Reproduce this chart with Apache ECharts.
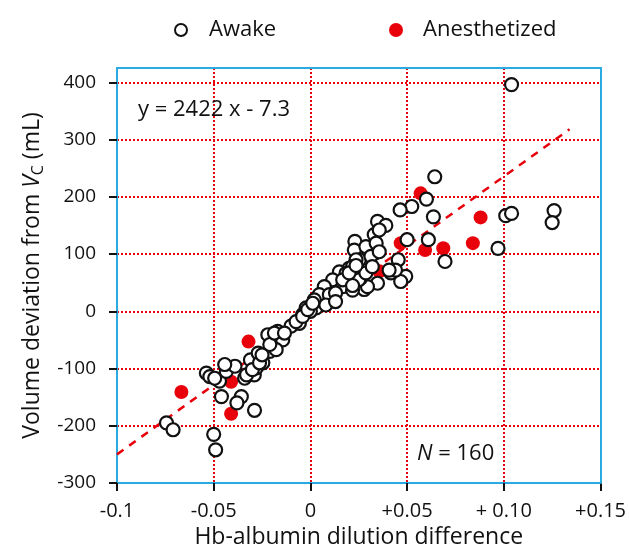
<!DOCTYPE html>
<html>
<head>
<meta charset="utf-8">
<script src="https://cdn.jsdelivr.net/npm/echarts@6/dist/echarts.min.js"></script>
<style>html,body{margin:0;padding:0;background:#fff;}#c{width:629px;height:560px;}</style>
</head>
<body>
<div id="c"></div>
<script>
var xTickValues = [-0.1, -0.05, 0, 0.05, 0.1, 0.15];
var xTickLabels = ['-0.1', '-0.05', '0', '+0.05', '+ 0.10', '+0.15'];
var yTickValues = [-300, -200, -100, 0, 100, 200, 300, 400];
var yTickLabels = ['-300', '-200', '-100', '0', '100', '200', '300', '400'];

var awake = [
  [0.104,396],[0.0643,235],[0.060,196],[0.0524,183],[0.0464,177],[0.0636,165],[0.0347,157],[0.039,150],
  [0.033,134],[0.023,122],[0.050,125],[0.061,125],[0.101,167],[0.104,171],[0.126,176],[0.125,155],
  [0.097,110],[0.0696,87],[0.0454,90],[0.0493,61],[0.0467,52],[0.0335,102],[0.0416,67],[0.0347,49],
  [0.0278,38],[0.0356,142],[0.0227,107],[0.0287,113],[0.034,119],[0.0253,90],[0.0313,96],[0.0356,104],
  [0.044,72],[0.0295,43],[0.026,58],[0.020,75],[0.015,69],[0.0115,55],[0.0167,43],[0.0218,37],
  [0.0072,43],[0.0046,29],[0.002,20],[-0.0022,6],[0.0098,29],[0.013,32],[0.0236,90],[0.0218,78],
  [0.0184,66],[0.0167,55],[0.025,55],[0.0287,67],[0.032,78],[0.0407,72],[0.003,6],[0.008,11],
  [0.013,17],[0.0218,45],[0.020,67],[0.0236,80],
  [-0.0744,-195],[-0.071,-207],[-0.050,-215],[-0.049,-242],[-0.0538,-108],[-0.052,-114],[-0.046,-149],
  [-0.047,-122],[-0.0435,-105],[-0.039,-96],[-0.0357,-149],[-0.038,-160],[-0.0289,-173],[-0.034,-117],
  [-0.029,-111],[-0.028,-99],[-0.031,-85],[-0.0246,-90],[-0.027,-73],[-0.021,-70],[-0.019,-58],
  [-0.022,-41],[-0.0169,-35],[-0.0143,-50],[-0.010,-26],[-0.0057,-21],[-0.004,-6],[0,0],
  [-0.0495,-117],[-0.0443,-93],[-0.033,-111],[-0.030,-102],[-0.0263,-90],[-0.025,-76],[-0.0177,-67],
  [-0.021,-58],[-0.0186,-38],[-0.0134,-38],[-0.0074,-18],[-0.004,-9],[-0.0014,3],[0.0012,14]
];
var anesthetized = [
  [-0.0667,-141],[-0.041,-179],[-0.041,-123],[-0.032,-53],[0.0356,70],[0.0467,119],
  [0.057,206],[0.0593,107],[0.0687,110],[0.084,119],[0.088,164]
];
var fitLine = [[-0.1,-250],[0.134,318]];

var FONT = 'Open Sans';
var BLUE = '#29abe2';
var RED = '#e8000b';

var chart = echarts.init(document.getElementById('c'), null, {renderer: 'canvas'});
chart.setOption({
  animation: false,
  backgroundColor: '#fff',
  textStyle: {fontFamily: FONT},
  grid: {left: 117, right: 27, top: 68, bottom: 77, containLabel: false},
  legend: [
    {left: 169, top: 14, itemWidth: 12, itemHeight: 12, data: ['Awake'],
     textStyle: {fontFamily: FONT, fontSize: 22, color: '#111', padding: [0,0,0,17]}},
    {left: 384, top: 14, itemWidth: 14, itemHeight: 14, data: ['Anesthetized'],
     textStyle: {fontFamily: FONT, fontSize: 22, color: '#111', padding: [0,0,0,15]}}
  ],
  xAxis: [{
    type: 'value', min: -0.1, max: 0.15, interval: 0.05, position: 'bottom',
    name: 'Hb-albumin dilution difference', nameLocation: 'middle', nameGap: 43,
    nameTextStyle: {fontFamily: FONT, fontSize: 23, color: '#111'},
    axisLine: {show: true, onZero: false, lineStyle: {color: BLUE, width: 2}},
    axisTick: {show: true, inside: false, length: 8, lineStyle: {color: '#111', width: 2}},
    axisLabel: {margin: 18, fontFamily: FONT, fontSize: 20, color: '#111',
      formatter: function (v) {
        for (var i = 0; i < xTickValues.length; i++) { if (Math.abs(v - xTickValues[i]) < 1e-9) return xTickLabels[i]; }
        return '';
      }},
    splitLine: {show: true, lineStyle: {color: RED, width: 2, type: [2, 2]}}
  }, {
    type: 'value', min: -0.1, max: 0.15, interval: 0.05, position: 'top', z: 10,
    axisLine: {show: true, onZero: false, lineStyle: {color: BLUE, width: 2}},
    axisTick: {show: false}, axisLabel: {show: false}, splitLine: {show: false}
  }],
  yAxis: [{
    type: 'value', min: -300, max: 425, interval: 100, position: 'left',
    name: '{a|Volume deviation from }{i|V}{s|C}{a| (mL)}',
    nameLocation: 'middle', nameGap: 64,
    nameTextStyle: {
      rich: {
        a: {fontFamily: FONT, fontSize: 23, color: '#111'},
        i: {fontFamily: FONT, fontSize: 23, color: '#111', fontStyle: 'italic'},
        s: {fontFamily: FONT, fontSize: 16, color: '#111', padding: [11, 0, 0, 0]}
      }
    },
    axisLine: {show: true, onZero: false, lineStyle: {color: BLUE, width: 2}},
    axisTick: {show: true, inside: false, length: 8, customValues: yTickValues, lineStyle: {color: '#111', width: 2}},
    axisLabel: {margin: 21, fontFamily: FONT, fontSize: 19, color: '#111', customValues: yTickValues,
      formatter: function (v) {
        var i = yTickValues.indexOf(Math.round(v));
        return (i >= 0 && Math.abs(v - yTickValues[i]) < 1e-6) ? yTickLabels[i] : '';
      }},
    splitLine: {show: true, lineStyle: {color: RED, width: 2, type: [2, 2]}}
  }, {
    type: 'value', min: -300, max: 425, interval: 100, position: 'right', z: 10,
    axisLine: {show: true, onZero: false, lineStyle: {color: BLUE, width: 2}},
    axisTick: {show: false}, axisLabel: {show: false}, splitLine: {show: false}
  }],
  graphic: [
    {type: 'text', left: 138, top: 99, z: 20,
     style: {text: 'y = 2422 x - 7.3', fontFamily: FONT, fontSize: 22, fill: '#111'}},
    {type: 'text', left: 417, top: 443, z: 20,
     style: {text: '{i|N} = 160', fontFamily: FONT, fontSize: 22, fill: '#111',
       rich: {i: {fontFamily: FONT, fontSize: 22, fontStyle: 'italic', fill: '#111'}}}}
  ],
  series: [
    {name: 'fit', type: 'line', data: fitLine, symbol: 'none', silent: true, z: 1,
     lineStyle: {color: RED, width: 2.5, type: [8, 7]}},
    {name: 'Anesthetized', type: 'scatter', data: anesthetized, symbol: 'circle', symbolSize: 14, z: 2,
     itemStyle: {color: RED, opacity: 1}},
    {name: 'Awake', type: 'scatter', data: awake, symbol: 'circle', symbolSize: 13, z: 3,
     itemStyle: {color: '#fff', borderColor: '#111', borderWidth: 2.2, opacity: 1}}
  ]
});
</script>
</body>
</html>
